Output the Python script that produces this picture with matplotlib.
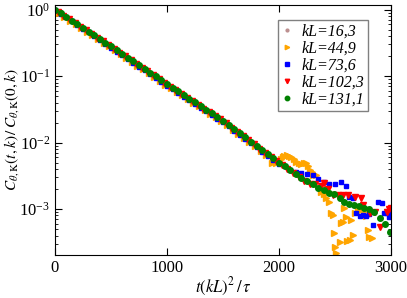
#!/usr/bin/env python3

import numpy as np
import matplotlib
matplotlib.use('Agg')
import matplotlib.pyplot as plt

# log10 of C(t,k)/C(0,k)
green_t = [0, 50, 100, 150, 200, 250, 300, 350, 400, 450, 500, 550, 600, 650, 700, 750,
           800, 850, 900, 950, 1000, 1050, 1100, 1150, 1200, 1250, 1300, 1350, 1400, 1450,
           1500, 1550, 1600, 1650, 1700, 1750, 1800, 1850, 1900, 1950, 2000,
           2050, 2100, 2150, 2200, 2250, 2300, 2350, 2405, 2450, 2494, 2540, 2583, 2628,
           2673, 2717, 2762, 2807, 2850, 2897, 2942, 2990]
green_log = [0.0, -0.055, -0.11, -0.165, -0.22, -0.275, -0.33, -0.385, -0.44, -0.495, -0.55,
             -0.607, -0.664, -0.721, -0.778, -0.835, -0.892, -0.949, -1.006, -1.063, -1.12,
             -1.175, -1.23, -1.285, -1.34, -1.395, -1.45, -1.505, -1.56, -1.615, -1.67,
             -1.733, -1.796, -1.859, -1.922, -1.985, -2.048, -2.111, -2.174, -2.237, -2.30,
             -2.36, -2.42, -2.48, -2.53, -2.58, -2.63, -2.68, -2.72, -2.76, -2.78, -2.83, -2.90,
             -2.92, -2.94, -2.96, -2.98, -3.00, -3.05, -3.13, -3.22, -3.35]

red_t = [25, 75, 125, 175, 225, 275, 325, 375, 425, 475, 525, 575, 625, 675, 725, 775,
         825, 875, 925, 975, 1025, 1075, 1125, 1175, 1225, 1275, 1325, 1375, 1425, 1475,
         1525, 1575, 1625, 1675, 1725, 1775, 1825, 1875, 1925, 1975,
         2025, 2075, 2125, 2175, 2225, 2275, 2325, 2375, 2404, 2440, 2481, 2526, 2571, 2616,
         2675, 2735, 2751, 2809, 2853, 2900, 2960, 2980, 2996]
red_log = [-0.038, -0.093, -0.148, -0.203, -0.258, -0.313, -0.368, -0.423, -0.478, -0.533,
           -0.589, -0.646, -0.703, -0.760, -0.817, -0.874, -0.931, -0.988, -1.045, -1.102,
           -1.158, -1.213, -1.268, -1.323, -1.378, -1.433, -1.488, -1.543, -1.598, -1.653,
           -1.712, -1.775, -1.838, -1.901, -1.964, -2.027, -2.090, -2.153, -2.216, -2.279,
           -2.34, -2.40, -2.46, -2.52, -2.58, -2.62, -2.63, -2.65, -2.61, -2.70, -2.79, -2.79,
           -2.79, -2.79, -2.82, -2.84, -2.94, -3.06, -3.05, -3.27, -3.05, -3.00, -2.98]

blue_t = [0, 50, 100, 150, 200, 250, 300, 350, 400, 450, 500, 550, 600, 650, 700, 750,
          800, 850, 900, 950, 1000, 1050, 1100, 1150, 1200, 1250, 1300, 1350, 1400, 1450,
          1500, 1550, 1600, 1650, 1700, 1750, 1800, 1850, 1900, 1950, 2000,
          2050, 2100, 2150, 2200, 2250, 2300, 2350, 2400, 2450, 2500, 2550, 2600, 2628, 2664,
          2690, 2720, 2750, 2780, 2800, 2840, 2887, 2915, 2940, 2960, 2977, 2990]
blue_log = [0.0, -0.062, -0.117, -0.172, -0.228, -0.285, -0.343, -0.40, -0.462, -0.518, -0.574,
            -0.631, -0.688, -0.745, -0.802, -0.859, -0.916, -0.973, -1.030, -1.087, -1.144,
            -1.199, -1.254, -1.309, -1.364, -1.419, -1.474, -1.529, -1.584, -1.639, -1.694,
            -1.757, -1.820, -1.883, -1.946, -2.009, -2.072, -2.135, -2.198, -2.261, -2.32,
            -2.36, -2.41, -2.44, -2.46, -2.47, -2.49, -2.55, -2.60, -2.62, -2.62, -2.60, -2.66,
            -2.82, -2.83, -3.06, -3.10, -3.09, -3.10, -3.08, -3.24, -2.90, -2.91, -3.06, -3.06,
            -3.12, -3.05]

orange_t = [35, 85, 135, 185, 235, 285, 335, 385, 435, 485, 535, 585, 635, 685, 735, 785,
            835, 885, 935, 985, 1035, 1085, 1135, 1185, 1235, 1285, 1335, 1385, 1435, 1485,
            1535, 1585, 1635, 1685, 1735, 1785, 1835, 1885,
            1935, 1973, 2000, 2018, 2035, 2048, 2070, 2090, 2108, 2130, 2152, 2175, 2197, 2220,
            2242, 2260, 2272, 2290, 2302, 2330, 2377, 2400, 2420, 2448, 2466, 2484, 2490, 2500,
            2511, 2540, 2556, 2574, 2583, 2600, 2610, 2630, 2646, 2661, 2675, 2705, 2735, 2760,
            2780, 2795, 2807, 2825]
orange_log = [-0.058, -0.114, -0.169, -0.224, -0.279, -0.334, -0.389, -0.444, -0.499, -0.554,
              -0.614, -0.671, -0.728, -0.785, -0.842, -0.899, -0.956, -1.013, -1.070, -1.127,
              -1.182, -1.237, -1.292, -1.347, -1.402, -1.457, -1.512, -1.567, -1.622, -1.677,
              -1.742, -1.805, -1.868, -1.931, -1.994, -2.057, -2.120, -2.183,
              -2.30, -2.31, -2.27, -2.24, -2.21, -2.20, -2.19, -2.20, -2.21, -2.25, -2.29, -2.31,
              -2.32, -2.31, -2.30, -2.36, -2.41, -2.45, -2.49, -2.49, -2.74, -2.78, -2.84, -2.89,
              -3.06, -3.09, -3.36, -3.57, -3.66, -3.49, -3.21, -3.20, -2.98, -3.12, -3.48, -3.47,
              -3.17, -3.39, -3.06, -3.03, -3.01, -3.05, -3.10, -3.32, -3.42, -3.44]

brown_t = [0, 50, 100, 150, 200, 250, 300, 350, 400, 450, 500, 550, 600, 650, 700, 750,
           800, 850, 900, 950, 1000, 1050, 1100, 1150, 1200, 1250, 1300, 1350, 1400, 1450,
           1500, 1550, 1600, 1650, 1700, 1750, 1800]
brown_log = [0.0, -0.06, -0.115, -0.17, -0.225, -0.28, -0.335, -0.39, -0.45, -0.505, -0.56,
             -0.617, -0.674, -0.731, -0.788, -0.845, -0.902, -0.959, -1.016, -1.073, -1.13,
             -1.185, -1.24, -1.295, -1.35, -1.405, -1.46, -1.515, -1.57, -1.625, -1.68,
             -1.743, -1.806, -1.869, -1.932, -1.995, -2.058]

labels = ['kL=16,3', 'kL=44,9', 'kL=73,6', 'kL=102,3', 'kL=131,1']


def main():
    plt.rcParams['font.family'] = 'serif'
    plt.rcParams['font.serif'] = ['Liberation Serif', 'DejaVu Serif']
    plt.rcParams['mathtext.fontset'] = 'stix'

    fig = plt.figure(figsize=(4.07, 2.98), dpi=100)
    ax = fig.add_axes([0.135, 0.144, 0.826, 0.839])

    series = [
        (brown_t, brown_log, 'o', '#bc8f8f', 2.5),
        (orange_t, orange_log, '>', '#ffa500', 4.0),
        (blue_t, blue_log, 's', '#0000ff', 3.5),
        (red_t, red_log, 'v', '#ff0000', 4.0),
        (green_t, green_log, 'o', '#008000', 4.0),
    ]
    for (t, lg, m, c, ms), lab in zip(series, labels):
        ax.plot(t, 10.0 ** np.array(lg), ls='none', marker=m, ms=ms, color=c,
                mec=c, label=lab)

    ax.set_yscale('log')
    ax.set_xlim(0, 3000)
    ax.set_ylim(2.03e-4, 1.17)
    ax.set_xticks([0, 1000, 2000, 3000])
    ax.tick_params(which='both', direction='in', top=True, right=True, labelsize=12)
    ax.tick_params(which='major', length=5)
    ax.tick_params(which='minor', length=2.5)
    ax.minorticks_off()
    ax.yaxis.set_minor_locator(matplotlib.ticker.LogLocator(base=10, subs=np.arange(2, 10)))
    ax.yaxis.set_minor_formatter(matplotlib.ticker.NullFormatter())

    ax.set_xlabel(r'$t(kL)^2\,/\,\tau$', fontsize=12, labelpad=0)
    ax.set_ylabel(r'$C_{\theta,\mathrm{K}}(t,k)\,/\,C_{\theta,\mathrm{K}}(0,k)$',
                  fontsize=11, labelpad=0)
    ax.yaxis.set_label_coords(-0.10, 0.5)

    leg = ax.legend(loc='upper right', bbox_to_anchor=(0.932, 0.94),
                    handlelength=0.6, handletextpad=0.6, borderpad=0.25,
                    labelspacing=0.05, fancybox=False, framealpha=1, markerscale=0.8,
                    borderaxespad=0, prop={'style': 'italic', 'size': 11.5})
    leg.get_frame().set_edgecolor('#808080')
    leg.get_frame().set_linewidth(1.0)

    fig.savefig('out.png', dpi=100)


if __name__ == '__main__':
    main()
